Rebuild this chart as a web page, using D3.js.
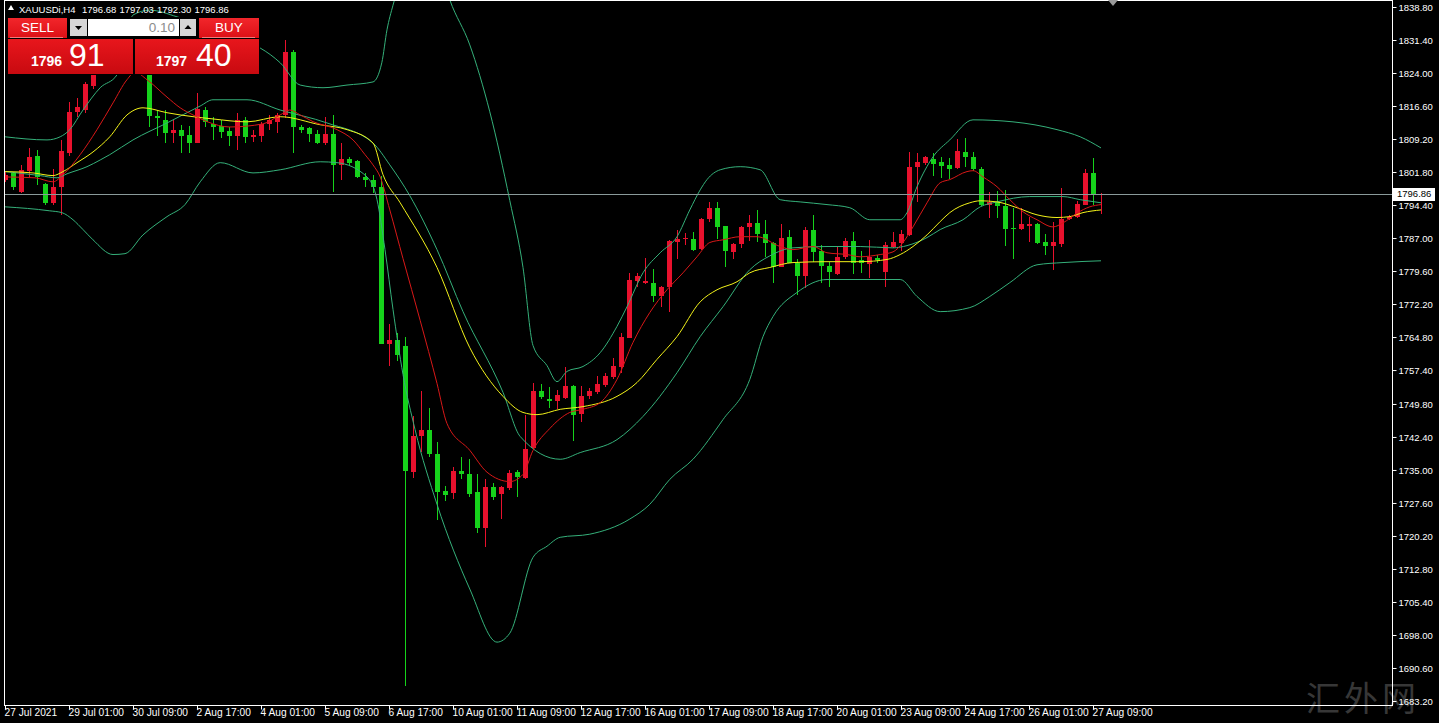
<!DOCTYPE html>
<html><head><meta charset="utf-8">
<script src="https://cdn.jsdelivr.net/npm/d3@7"></script>
<style>
html,body{margin:0;padding:0;background:#000;overflow:hidden}
svg{display:block}
</style></head><body>
<svg id="c" width="1439" height="723"></svg>
<script>
// ---------------- data ----------------
const symbolLabel = "XAUUSDi,H4";
const headerOHLC = ["1796.68", "1797.03", "1792.30", "1796.86"];
const sellQuote = ["1796", "91"];
const buyQuote = ["1797", "40"];
const lotSize = "0.10";
const currentPrice = 1796.86;

const opens = [1800.1,1801.6,1797.4,1802.1,1805.4,1799.2,1794.9,1798.5,1806.1,1815.3,
1815.7,1821.1,1825.2,1827.4,1829.6,1827.6,1829.8,1828.2,1826.6,1814.4,
1813.5,1810.6,1811.3,1810.1,1808.3,1815.7,1812.6,1812.2,1811.0,1809.9,
1813.5,1809.7,1809.9,1812.6,1813.05,1814.6,1828.7,1811.9,1811.7,1810.4,
1808.3,1810.4,1803.4,1804.8,1804.3,1800.7,1800.1,1798.5,1763.4,1764.2,
1762.7,1734.5,1742.5,1743.9,1738.5,1730.2,1729.8,1734.7,1734.0,1730.0,
1721.9,1731.2,1729.6,1730.9,1734.5,1733.3,1739.8,1752.6,1750.8,1750.4,
1751.25,1753.9,1747.4,1751.5,1752.4,1753.9,1755.7,1758.2,1764.7,1777.45,
1776.8,1777.0,1774.1,1776.1,1786.2,1786.6,1786.85,1784.6,1791.3,1793.8,
1789.6,1784.0,1785.7,1789.5,1790.4,1787.9,1785.9,1780.6,1787.3,1781.5,
1778.6,1788.9,1784.0,1780.8,1779.0,1782.8,1786.4,1782.0,1781.3,1782.6,
1779.5,1785.1,1785.9,1787.7,1803.0,1803.9,1804.8,1804.1,1803.4,1802.7,
1806.3,1805.2,1802.5,1794.4,1795.1,1794.2,1789.3,1789.1,1789.8,1790.2,
1786.2,1785.1,1785.7,1791.3,1791.8,1794.5,1801.6,1796.68];
const highs = [1802.0,1801.85,1803.4,1807.2,1806.8,1799.4,1802.5,1809.0,1817.5,1818.4,
1822.0,1826.5,1828.5,1831.0,1832.0,1830.8,1832.4,1830.2,1828.0,1815.7,
1815.7,1813.5,1812.4,1812.2,1819.5,1816.4,1814.2,1813.5,1812.0,1815.1,
1814.2,1811.3,1813.0,1814.6,1815.1,1831.4,1829.2,1812.4,1812.0,1811.3,
1814.2,1814.6,1808.3,1805.2,1804.5,1801.6,1801.2,1801.0,1767.8,1765.8,
1764.7,1747.0,1752.6,1749.0,1741.2,1731.5,1735.6,1737.8,1737.4,1734.0,
1732.9,1732.0,1731.3,1735.1,1735.1,1747.4,1754.4,1754.2,1753.5,1752.9,
1758.0,1754.1,1753.9,1753.3,1756.0,1756.8,1760.2,1765.8,1779.2,1779.2,
1782.6,1780.1,1776.3,1786.6,1788.9,1788.2,1788.4,1791.6,1795.1,1795.1,
1789.8,1785.9,1789.7,1792.2,1793.3,1791.1,1786.0,1790.2,1788.9,1782.2,
1789.5,1792.2,1785.5,1781.7,1785.1,1787.1,1788.4,1784.0,1786.6,1783.3,
1786.2,1788.4,1788.9,1806.3,1806.1,1805.4,1806.1,1805.2,1805.0,1809.2,
1809.5,1806.3,1803.0,1797.4,1797.6,1797.8,1793.8,1793.8,1791.8,1790.4,
1787.8,1790.7,1798.3,1792.2,1795.4,1802.5,1805.0,1797.03];
const lows = [1799.5,1797.8,1797.0,1800.7,1799.0,1794.4,1794.4,1792.2,1805.5,1814.2,
1815.0,1820.5,1824.6,1825.8,1826.8,1826.2,1827.2,1825.4,1811.8,1809.9,
1808.3,1808.3,1806.1,1806.1,1808.3,1812.0,1809.0,1809.5,1807.7,1806.8,
1808.3,1808.5,1808.5,1811.3,1810.6,1814.0,1806.1,1810.6,1808.5,1808.0,
1807.9,1797.4,1800.1,1803.2,1800.5,1798.5,1797.2,1763.2,1758.4,1759.5,
1686.5,1733.3,1739.0,1737.8,1723.7,1728.0,1728.6,1732.9,1729.0,1720.9,
1717.7,1728.3,1724.0,1730.4,1728.9,1732.9,1739.4,1750.8,1749.0,1748.6,
1750.8,1741.5,1745.7,1750.8,1752.0,1753.5,1755.3,1756.8,1764.5,1776.1,
1776.6,1772.7,1771.6,1770.5,1782.2,1785.5,1784.2,1784.4,1790.6,1786.8,
1780.6,1782.2,1784.8,1786.4,1786.2,1782.8,1777.0,1780.4,1781.3,1774.3,
1775.9,1781.7,1777.0,1776.1,1778.8,1782.2,1779.0,1779.2,1778.1,1781.5,
1776.1,1784.8,1784.0,1787.5,1795.1,1803.4,1801.0,1800.5,1800.3,1802.5,
1803.0,1802.1,1794.2,1791.6,1791.6,1785.3,1782.2,1788.9,1786.1,1785.7,
1783.1,1779.8,1785.1,1791.1,1791.6,1794.3,1794.5,1792.30];
const closes = [1801.2,1798.5,1802.3,1805.2,1800.7,1794.9,1798.5,1806.6,1815.3,1816.4,
1821.6,1825.2,1827.4,1829.6,1827.6,1829.8,1828.2,1826.6,1814.2,1813.95,
1810.6,1811.3,1809.9,1808.3,1816.0,1813.05,1811.9,1810.8,1809.9,1813.5,
1809.7,1810.1,1812.6,1813.5,1814.6,1828.7,1811.9,1811.3,1810.4,1808.3,
1810.4,1803.4,1804.8,1803.9,1800.7,1800.1,1798.5,1763.4,1764.2,1760.9,
1734.7,1742.6,1743.9,1738.5,1730.0,1729.4,1734.7,1734.0,1729.5,1721.9,
1731.2,1728.9,1731.2,1734.3,1733.3,1739.8,1752.6,1751.25,1750.4,1751.7,
1753.9,1747.4,1751.5,1752.6,1754.2,1756.0,1758.2,1764.9,1777.7,1778.6,
1777.3,1774.1,1776.1,1786.4,1786.85,1786.9,1784.4,1791.3,1793.8,1789.6,
1784.0,1785.7,1789.5,1790.4,1787.9,1785.9,1780.6,1787.1,1781.5,1778.6,
1788.9,1784.0,1780.6,1779.5,1782.8,1786.4,1781.5,1781.3,1782.8,1782.2,
1785.5,1786.2,1787.9,1803.0,1804.1,1805.2,1803.6,1803.2,1802.5,1806.5,
1805.2,1802.5,1794.4,1795.1,1794.2,1789.1,1789.1,1790.2,1790.2,1785.9,
1785.3,1786.0,1791.3,1791.8,1794.7,1801.6,1796.7,1796.86];

// indicator lines: [bar index, price]
const upperBand = [[0,1809.7],[5.25,1809.0],[6.9,1809.7],[8.1,1811.3],[9.75,1815.7],[11.9,1820.7],[14,1823.6],[15,1830.3],[16,1837.0],[18.1,1838.1],[21.5,1836.6],[24.4,1834.8],[28.1,1831.9],[31.9,1829.6],[34.4,1826.3],[36.9,1821.3],[39.75,1820.7],[42.75,1821.3],[46,1822.0],[47.1,1826.3],[47.75,1833.7],[48.5,1839.2],[50,1847.1],[52.5,1853.8],[54.4,1847.1],[55.6,1840.4],[58.1,1830.3],[60.6,1815.3],[63.1,1795.4],[64.75,1780.4],[66,1762.9],[67.75,1758.4],[69,1754.8],[70.25,1757.1],[72.25,1758.2],[74.4,1761.3],[76.5,1767.2],[77.75,1771.6],[79.75,1779.2],[81.9,1783.7],[84,1787.3],[85.6,1793.3],[86.9,1797.8],[87.75,1800.1],[89.4,1802.3],[91.9,1803.0],[94.4,1802.3],[96.9,1795.6],[99.4,1795.1],[102.75,1794.5],[105.6,1793.8],[108.1,1791.1],[111.9,1791.1],[112.75,1792.7],[114,1798.5],[116,1805.2],[118.1,1809.0],[121,1813.5],[126,1813.05],[131.5,1811.3],[134.4,1809.7],[137,1807.2]];
const middleBand = [[0,1801.9],[4.4,1801.0],[6.5,1800.5],[7.75,1801.4],[10.25,1803.0],[11.9,1804.5],[13.1,1805.7],[16,1809.0],[20.25,1812.8],[24.4,1816.6],[26,1818.0],[30.25,1818.0],[34.4,1815.7],[40.25,1812.8],[46,1808.3],[48.1,1803.4],[50.6,1796.5],[54,1784.4],[57.25,1770.5],[62.25,1752.4],[64.4,1742.5],[69.4,1737.4],[71.9,1738.9],[76.5,1741.8],[79.75,1747.0],[84,1756.8],[86.9,1764.9],[89.75,1771.6],[93.1,1779.9],[95.6,1783.0],[98.5,1784.8],[102.75,1785.1],[106.9,1785.1],[111,1784.8],[112.75,1785.3],[115.25,1787.1],[116.9,1788.9],[119.75,1791.1],[121.9,1794.0],[124,1795.1],[128.1,1796.3],[132.25,1796.3],[134.4,1795.6],[137,1794.9]];
const lowerBand = [[0,1794.0],[5.6,1793.1],[7.1,1792.7],[8.5,1791.1],[9.75,1788.9],[11,1786.6],[13.5,1783.3],[15,1783.5],[17.25,1787.7],[20.25,1791.8],[22.5,1794.5],[24.4,1799.6],[26.9,1803.9],[31,1801.6],[34.4,1802.3],[39.4,1804.1],[41.5,1803.9],[45.25,1800.7],[46.5,1795.6],[47.5,1784.4],[48.5,1771.0],[49.75,1756.4],[51.25,1744.1],[54,1727.3],[58.1,1708.3],[61.5,1696.4],[63.1,1698.4],[66,1715.4],[67.75,1717.9],[69.4,1719.9],[73.1,1720.6],[78.1,1724.0],[80.6,1727.3],[83.1,1732.9],[86,1737.4],[89.75,1746.3],[93.1,1755.3],[94.75,1764.9],[96,1769.4],[99,1774.8],[102.75,1777.7],[111.9,1777.7],[114,1773.9],[116.9,1770.5],[120.6,1771.4],[123.1,1773.9],[125.6,1777.0],[129,1781.0],[132.25,1781.5],[137,1781.9]];
const yellowMA = [[0,1801.9],[3.5,1801.6],[6,1801.0],[7.25,1801.9],[9,1803.9],[11,1806.3],[13.1,1809.7],[15.25,1814.6],[17.25,1816.2],[20.25,1815.1],[21.9,1814.6],[26,1813.7],[30.25,1813.05],[34.4,1814.2],[39.4,1812.4],[42.75,1811.3],[46,1808.3],[47.25,1801.2],[49.4,1794.9],[54,1780.4],[58.1,1762.4],[62.25,1751.5],[64.75,1747.9],[66.5,1747.4],[69.4,1748.6],[72.25,1749.2],[76.5,1751.5],[79,1754.6],[81.5,1759.8],[84,1764.9],[86.9,1772.7],[89,1775.4],[91.5,1777.2],[93.1,1779.2],[95.6,1780.4],[98.5,1781.5],[102.75,1781.7],[106.9,1781.7],[110.25,1782.2],[111.9,1783.3],[113.5,1785.1],[115.25,1787.7],[116.9,1790.7],[118.1,1792.7],[120.6,1794.9],[121.9,1795.35],[124,1795.1],[126.5,1793.8],[129,1792.2],[131.5,1791.6],[133.1,1791.8],[134.75,1792.7],[137,1793.3]];
const redMA = [[0,1800.7],[3.75,1800.5],[6,1799.6],[7.25,1801.2],[9.4,1805.7],[11.5,1811.3],[13.5,1817.3],[15.25,1822.5],[16.25,1824.2],[17.75,1822.5],[20.25,1818.6],[21.9,1816.2],[23.5,1814.6],[25.25,1813.1],[28.1,1811.9],[32.25,1812.6],[34.4,1814.6],[35.6,1815.7],[36.9,1814.6],[38.5,1813.1],[41.5,1811.3],[43.5,1809.0],[45,1805.7],[46,1803.4],[46.9,1800.7],[48.1,1793.3],[49.75,1782.4],[51.9,1768.5],[54,1754.4],[55.25,1745.4],[58.1,1739.4],[60.25,1734.5],[63.1,1732.4],[64.75,1734.0],[66,1739.4],[68.1,1744.3],[70.6,1747.9],[72.25,1748.6],[74.4,1750.1],[76.5,1755.3],[78.5,1763.6],[80.6,1770.3],[82.75,1775.4],[84.75,1779.2],[86.5,1782.8],[88.1,1786.0],[89.75,1786.6],[91.9,1787.3],[94,1787.3],[96.9,1785.1],[98.5,1784.4],[101,1785.1],[102.75,1783.7],[105.25,1783.3],[106.9,1782.8],[109.4,1783.3],[111,1783.9],[112.25,1786.0],[113.5,1789.5],[115.25,1794.9],[116.9,1799.4],[118.1,1800.1],[120.25,1801.9],[121,1802.1],[122.25,1800.7],[124,1798.5],[125.6,1795.6],[127.25,1792.9],[129,1791.1],[131,1789.5],[132.25,1790.4],[134,1792.6],[135.6,1794.0],[137,1794.5]];

const priceTicks = [1838.80,1831.40,1824.00,1816.60,1809.20,1801.80,1794.40,1787.00,1779.60,1772.20,1764.80,1757.40,1749.80,1742.40,1735.00,1727.60,1720.20,1712.80,1705.40,1698.00,1690.60,1683.20];
const dateTickBars = [0,8,16,24,32,40,48,56,64,72,80,88,96,104,112,120,128,136];
const dateTickLabels = ["27 Jul 2021","29 Jul 01:00","30 Jul 09:00","2 Aug 17:00","4 Aug 01:00","5 Aug 09:00","6 Aug 17:00","10 Aug 01:00","11 Aug 09:00","12 Aug 17:00","16 Aug 01:00","17 Aug 09:00","18 Aug 17:00","20 Aug 01:00","23 Aug 09:00","24 Aug 17:00","26 Aug 01:00","27 Aug 09:00"];
const watermark = "汇外网";

// ---------------- drawing ----------------
const W = 1439, H = 723;
const FONT = "'Liberation Sans', Arial, sans-serif";
const UP = "#e8112d", DOWN = "#16d21b";
const svg = d3.select("#c");
svg.append("rect").attr("width", W).attr("height", H).attr("fill", "#000");

const x = d3.scaleLinear().domain([0, 137]).range([5, 1101]);
const y = d3.scaleLinear().domain([1683.2, 1838.8]).range([701, 7]);
const plotLeft = 4.5, plotRight = 1392.5, plotTop = 0.5, plotBottom = 705.5;

const defs = svg.append("defs");
defs.append("clipPath").attr("id", "plot").append("rect")
  .attr("x", plotLeft + 0.5).attr("y", plotTop).attr("width", plotRight - plotLeft - 0.5).attr("height", plotBottom - plotTop);

// watermark
svg.append("text").attr("x", 1306).attr("y", 711).text(watermark)
  .attr("font-family", "'Noto Sans CJK SC', sans-serif").attr("font-size", 34)
  .attr("fill", "#4a4a4a").attr("opacity", 0.75).attr("letter-spacing", 4);

const plot = svg.append("g").attr("clip-path", "url(#plot)");

// candles
const bars = d3.range(opens.length).map(i => ({i, o: opens[i], h: highs[i], l: lows[i], c: closes[i]}));
const cg = plot.append("g").attr("shape-rendering", "crispEdges");
cg.selectAll("line.w").data(bars).join("line")
  .attr("x1", d => Math.round(x(d.i)) + 0.5).attr("x2", d => Math.round(x(d.i)) + 0.5)
  .attr("y1", d => y(d.h)).attr("y2", d => y(d.l))
  .attr("stroke", d => d.c >= d.o ? UP : DOWN).attr("stroke-width", 1);
cg.selectAll("rect.b").data(bars).join("rect")
  .attr("x", d => Math.round(x(d.i)) - 2).attr("width", 5)
  .attr("y", d => Math.round(y(Math.max(d.o, d.c))))
  .attr("height", d => Math.max(1, Math.round(Math.abs(y(d.o) - y(d.c)))))
  .attr("fill", d => d.c >= d.o ? UP : DOWN);

// indicator lines
const line = d3.line().x(d => x(d[0])).y(d => y(d[1])).curve(d3.curveMonotoneX);
const lg = plot.append("g").attr("fill", "none");
[[upperBand, "#35b07a"], [middleBand, "#35b07a"], [lowerBand, "#35b07a"], [yellowMA, "#f2f21a"], [redMA, "#d81818"]]
  .forEach(([data, col]) => lg.append("path").datum(data).attr("d", line).attr("stroke", col).attr("stroke-width", 1));

// current price line
svg.append("line").attr("x1", plotLeft + 0.5).attr("x2", plotRight).attr("y1", Math.round(y(currentPrice)) + 0.5).attr("y2", Math.round(y(currentPrice)) + 0.5)
  .attr("stroke", "#8a9a9a").attr("stroke-width", 1);

// frame
svg.append("rect").attr("x", plotLeft).attr("y", plotTop).attr("width", plotRight - plotLeft).attr("height", plotBottom - plotTop)
  .attr("fill", "none").attr("stroke", "#fff").attr("stroke-width", 1).attr("shape-rendering", "crispEdges");

// right price axis
const yAxis = d3.axisRight(y).tickValues(priceTicks).tickFormat(d3.format(".2f")).tickSize(4).tickPadding(2);
const ya = svg.append("g").attr("transform", `translate(${plotRight},0)`).call(yAxis);
ya.select(".domain").remove();
ya.selectAll(".tick line").attr("stroke", "#fff");
ya.selectAll(".tick text").attr("fill", "#fff").attr("font-family", FONT).attr("font-size", 9.5);

// current price box
const cpY = Math.round(y(currentPrice));
svg.append("rect").attr("x", 1393).attr("y", cpY - 6).attr("width", 42).attr("height", 13).attr("fill", "#fff");
svg.append("text").attr("x", 1397).attr("y", cpY + 0.5).attr("dominant-baseline", "middle").text(d3.format(".2f")(currentPrice))
  .attr("fill", "#000").attr("font-family", FONT).attr("font-size", 9.5);

// bottom time axis
const xAxis = d3.axisBottom(x).tickValues(dateTickBars).tickFormat((d, i) => dateTickLabels[i]).tickSize(4).tickPadding(2);
const xa = svg.append("g").attr("transform", `translate(0,${plotBottom})`).call(xAxis);
xa.select(".domain").remove();
xa.selectAll(".tick line").attr("stroke", "#fff");
xa.selectAll(".tick text").attr("fill", "#fff").attr("font-family", FONT).attr("font-size", 10.2)
  .attr("text-anchor", "start").attr("x", -1).attr("y", 3);

// chart shift marker
svg.append("path").attr("d", "M1108,0 L1118,0 L1113,6 Z").attr("fill", "#9a9a9a");

// header
svg.append("path").attr("d", "M8,10 L14,10 L11,5 Z").attr("fill", "#fff");
const hdr = svg.append("g").attr("font-family", FONT).attr("font-size", 9.5).attr("fill", "#fff");
hdr.append("text").attr("x", 19).attr("y", 13).text(symbolLabel);
const hdrX = [82, 119.5, 157, 194.5];
headerOHLC.forEach((v, i) => hdr.append("text").attr("x", hdrX[i]).attr("y", 13).text(v));

// one-click trading panel
const gBtn = defs.append("linearGradient").attr("id", "gBtn").attr("x1", 0).attr("x2", 0).attr("y1", 0).attr("y2", 1);
gBtn.append("stop").attr("offset", 0).attr("stop-color", "#f2262b");
gBtn.append("stop").attr("offset", 1).attr("stop-color", "#dc1016");
const gBox = defs.append("linearGradient").attr("id", "gBox").attr("x1", 0).attr("x2", 0).attr("y1", 0).attr("y2", 1);
gBox.append("stop").attr("offset", 0).attr("stop-color", "#e8161c");
gBox.append("stop").attr("offset", 1).attr("stop-color", "#c80a10");

const pnl = svg.append("g").attr("font-family", FONT);
pnl.append("rect").attr("x", 7).attr("y", 17).attr("width", 253).attr("height", 58).attr("fill", "#000");
pnl.append("rect").attr("x", 8).attr("y", 18).attr("width", 59).attr("height", 20).attr("fill", "url(#gBtn)");
pnl.append("rect").attr("x", 199).attr("y", 18).attr("width", 60).attr("height", 20).attr("fill", "url(#gBtn)");
pnl.append("line").attr("x1", 10).attr("x2", 63).attr("y1", 37.5).attr("y2", 37.5).attr("stroke", "#f47a7a").attr("stroke-width", 1);
pnl.append("line").attr("x1", 202).attr("x2", 255).attr("y1", 37.5).attr("y2", 37.5).attr("stroke", "#f47a7a").attr("stroke-width", 1);
pnl.append("text").attr("x", 37.5).attr("y", 32).attr("text-anchor", "middle").attr("font-size", 13.5).attr("fill", "#fff").text("SELL");
pnl.append("text").attr("x", 229).attr("y", 32).attr("text-anchor", "middle").attr("font-size", 13.5).attr("fill", "#fff").text("BUY");
// lot control
pnl.append("rect").attr("x", 70).attr("y", 19).attr("width", 17).attr("height", 17).attr("fill", "#d6d6d6");
pnl.append("path").attr("d", "M75,26 L82,26 L78.5,30 Z").attr("fill", "#000");
pnl.append("rect").attr("x", 88).attr("y", 19).attr("width", 91).attr("height", 17).attr("fill", "#fff");
pnl.append("text").attr("x", 175).attr("y", 32).attr("text-anchor", "end").attr("font-size", 13.5).attr("fill", "#8c8c8c").text(lotSize);
pnl.append("rect").attr("x", 180).attr("y", 19).attr("width", 16).attr("height", 17).attr("fill", "#d6d6d6");
pnl.append("path").attr("d", "M184.5,29 L191.5,29 L188,25 Z").attr("fill", "#000");
// price boxes
pnl.append("rect").attr("x", 8).attr("y", 39).attr("width", 125).attr("height", 35).attr("fill", "url(#gBox)");
pnl.append("rect").attr("x", 135).attr("y", 39).attr("width", 124).attr("height", 35).attr("fill", "url(#gBox)");
pnl.append("text").attr("x", 31).attr("y", 66).attr("font-size", 14).attr("font-weight", "bold").attr("fill", "#fff").text(sellQuote[0]);
pnl.append("text").attr("x", 69).attr("y", 66).attr("font-size", 32).attr("fill", "#fff").text(sellQuote[1]);
pnl.append("text").attr("x", 156).attr("y", 66).attr("font-size", 14).attr("font-weight", "bold").attr("fill", "#fff").text(buyQuote[0]);
pnl.append("text").attr("x", 196).attr("y", 66).attr("font-size", 32).attr("fill", "#fff").text(buyQuote[1]);
</script>
</body></html>
